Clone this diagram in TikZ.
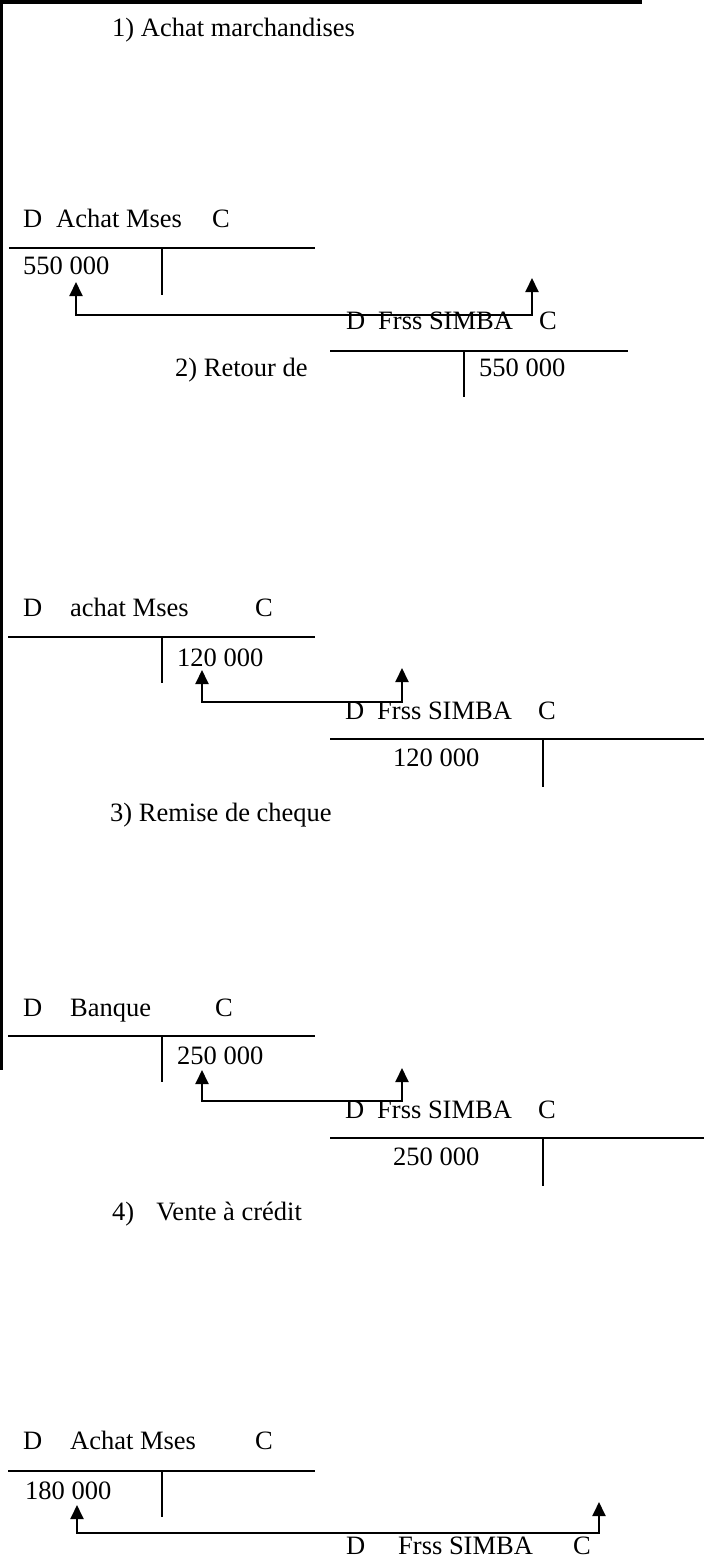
\documentclass[tikz,border=0pt]{standalone}
\usepackage{fontspec}
\setmainfont{Liberation Serif}
\usetikzlibrary{arrows.meta}

\begin{document}
\begin{tikzpicture}[x=1pt,y=-1pt,
    txt/.style={anchor=base west,inner sep=0pt,font=\fontsize{26.5}{30}\selectfont},
    tline/.style={line width=2.2pt},
    link/.style={line width=2pt,{Triangle[width=13pt,length=14pt]}-{Triangle[width=13pt,length=14pt]}}]
  \useasboundingbox (0,0) rectangle (704,1559);
  % page frame
  \draw[line width=4.5pt] (0,2) -- (642,2);
  \draw[line width=3pt] (1.5,0) -- (1.5,1070);

  % 1) purchase
  \node[txt] (t1) at (112,36) {1) Achat marchandises};
  \node[txt] (a1d) at (23,227) {D};
  \node[txt] (a1n) at (56,227) {Achat Mses};
  \node[txt] (a1c) at (212,227) {C};
  \draw[tline] (9,248) -- (315,248);
  \draw[tline] (162,248) -- (162,295);
  \node[txt] (a1v) at (23,274) {550 000};
  \node[txt] (f1d) at (346,329) {D};
  \node[txt] (f1n) at (378,329) {Frss SIMBA};
  \node[txt] (f1c) at (539,329) {C};
  \draw[tline] (330,351) -- (628,351);
  \draw[tline] (464,351) -- (464,397);
  \node[txt] (f1v) at (479,376) {550 000};
  \coordinate (l1a) at (76,282);
  \coordinate (l1b) at (532,278);
  \coordinate (l1h) at (0,315);
  \draw[link] (l1a) -- (l1a |- l1h) -- (l1b |- l1h) -- (l1b);

  % 2) return
  \node[txt] (t2) at (175,376) {2) Retour de};
  \node[txt] (a2d) at (23,616) {D};
  \node[txt] (a2n) at (70,616) {achat Mses};
  \node[txt] (a2c) at (255,616) {C};
  \draw[tline] (8,637) -- (315,637);
  \draw[tline] (162,637) -- (162,683);
  \node[txt] (a2v) at (177,666) {120 000};
  \node[txt] (f2d) at (345,719) {D};
  \node[txt] (f2n) at (377,719) {Frss SIMBA};
  \node[txt] (f2c) at (538,719) {C};
  \draw[tline] (330,739) -- (704,739);
  \draw[tline] (543,739) -- (543,787);
  \node[txt] (f2v) at (393,766) {120 000};
  \coordinate (l2a) at (202,670);
  \coordinate (l2b) at (402,668);
  \coordinate (l2h) at (0,702);
  \draw[link] (l2a) -- (l2a |- l2h) -- (l2b |- l2h) -- (l2b);

  % 3) cheque
  \node[txt] (t3) at (110,821) {3) Remise de cheque};
  \node[txt] (a3d) at (23,1016) {D};
  \node[txt] (a3n) at (70,1016) {Banque};
  \node[txt] (a3c) at (215,1016) {C};
  \draw[tline] (8,1036) -- (315,1036);
  \draw[tline] (162,1036) -- (162,1082);
  \node[txt] (a3v) at (177,1064) {250 000};
  \node[txt] (f3d) at (345,1118) {D};
  \node[txt] (f3n) at (377,1118) {Frss SIMBA};
  \node[txt] (f3c) at (538,1118) {C};
  \draw[tline] (330,1138) -- (704,1138);
  \draw[tline] (543,1138) -- (543,1186);
  \node[txt] (f3v) at (393,1165) {250 000};
  \coordinate (l3a) at (202,1070);
  \coordinate (l3b) at (402,1068);
  \coordinate (l3h) at (0,1101);
  \draw[link] (l3a) -- (l3a |- l3h) -- (l3b |- l3h) -- (l3b);

  % 4) sale
  \node[txt] (t4) at (112,1220) {4)\hspace{22pt}Vente à crédit};
  \node[txt] (a4d) at (23,1449) {D};
  \node[txt] (a4n) at (70,1449) {Achat Mses};
  \node[txt] (a4c) at (255,1449) {C};
  \draw[tline] (8,1471) -- (315,1471);
  \draw[tline] (162,1471) -- (162,1517);
  \node[txt] (a4v) at (25,1499) {180 000};
  \node[txt] (f4d) at (346,1554) {D};
  \node[txt] (f4n) at (398,1554) {Frss SIMBA};
  \node[txt] (f4c) at (573,1554) {C};
  \coordinate (l4a) at (77,1505);
  \coordinate (l4b) at (599,1502);
  \coordinate (l4h) at (0,1533);
  \draw[link] (l4a) -- (l4a |- l4h) -- (l4b |- l4h) -- (l4b);
\end{tikzpicture}
\end{document}
